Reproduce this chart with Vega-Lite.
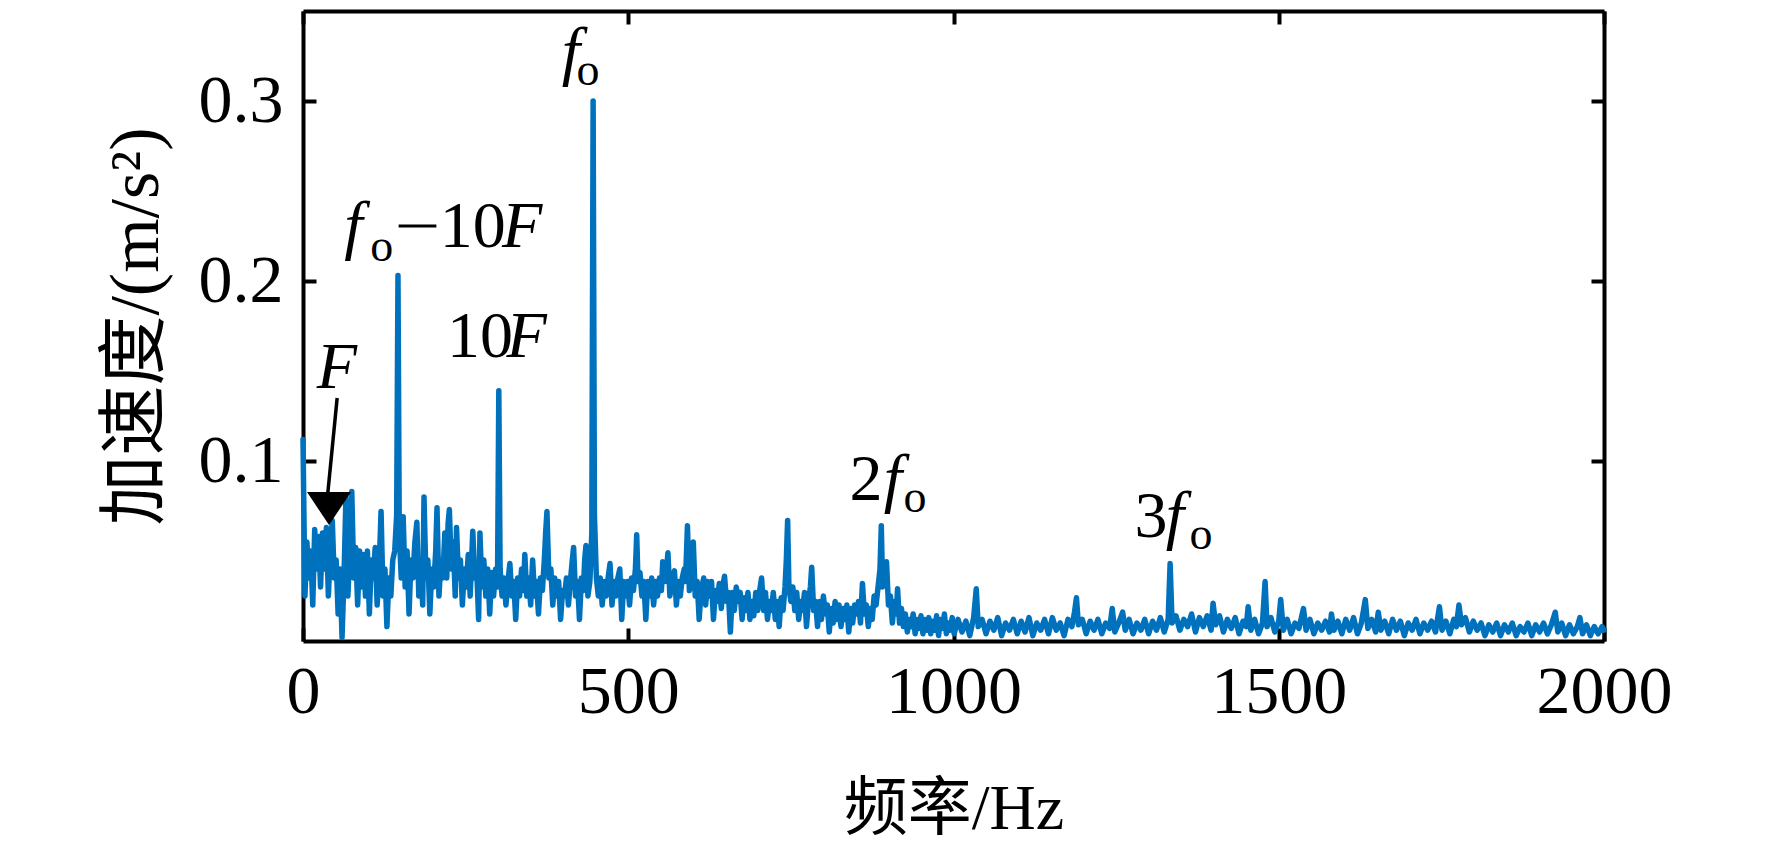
{
  "$schema": "https://vega.github.io/schema/vega-lite/v6.json",
  "width": 1301,
  "height": 630,
  "autosize": "none",
  "padding": {"left": 303, "top": 11, "right": 168, "bottom": 209},
  "background": "white",
  "config": {
    "view": {"stroke": null},
    "axis": {
      "labelFont": "Liberation Serif",
      "labelFontSize": 68,
      "labelColor": "black",
      "labelFlush": false,
      "titleFont": "Liberation Serif, Noto Sans CJK SC",
      "titleFontSize": 64,
      "titleFontWeight": "normal",
      "titleColor": "black",
      "domainColor": "black",
      "domainWidth": 4,
      "tickColor": "black",
      "tickWidth": 4,
      "tickSize": -13,
      "grid": false
    }
  },
  "datasets": {
    "spec": [
      {"f":0,"a":0.112},{"f":3,"a":0.025},{"f":6,"a":0.055},{"f":9,"a":0.035},{"f":12,"a":0.05},{"f":15,"a":0.02},
      {"f":18,"a":0.062},{"f":21,"a":0.04},{"f":24,"a":0.058},{"f":27,"a":0.03},{"f":30,"a":0.06},{"f":33,"a":0.04},
      {"f":36,"a":0.063},{"f":39,"a":0.025},{"f":42,"a":0.05},{"f":45,"a":0.067},{"f":48,"a":0.035},{"f":51,"a":0.045},
      {"f":54,"a":0.015},{"f":57,"a":0.04},{"f":60,"a":0.002},{"f":63,"a":0.035},{"f":66,"a":0.08},{"f":69,"a":0.025},
      {"f":72,"a":0.05},{"f":75,"a":0.083},{"f":78,"a":0.035},{"f":81,"a":0.052},{"f":84,"a":0.02},{"f":87,"a":0.05},
      {"f":90,"a":0.03},{"f":93,"a":0.048},{"f":96,"a":0.025},{"f":99,"a":0.05},{"f":102,"a":0.015},{"f":105,"a":0.045},
      {"f":108,"a":0.035},{"f":111,"a":0.052},{"f":114,"a":0.02},{"f":117,"a":0.04},{"f":120,"a":0.072},{"f":123,"a":0.025},
      {"f":126,"a":0.04},{"f":129,"a":0.008},{"f":132,"a":0.035},{"f":135,"a":0.025},{"f":138,"a":0.045},{"f":141,"a":0.05},
      {"f":144,"a":0.07},{"f":146,"a":0.203},{"f":148,"a":0.06},{"f":151,"a":0.035},{"f":154,"a":0.069},{"f":157,"a":0.03},
      {"f":160,"a":0.05},{"f":163,"a":0.015},{"f":166,"a":0.045},{"f":169,"a":0.035},{"f":172,"a":0.055},{"f":175,"a":0.066},
      {"f":178,"a":0.025},{"f":181,"a":0.045},{"f":184,"a":0.02},{"f":186,"a":0.08},{"f":189,"a":0.035},{"f":192,"a":0.045},
      {"f":195,"a":0.015},{"f":198,"a":0.04},{"f":201,"a":0.03},{"f":204,"a":0.05},{"f":206,"a":0.074},{"f":209,"a":0.025},
      {"f":212,"a":0.045},{"f":215,"a":0.035},{"f":218,"a":0.06},{"f":221,"a":0.035},{"f":223,"a":0.065},{"f":225,"a":0.073},
      {"f":228,"a":0.04},{"f":231,"a":0.055},{"f":234,"a":0.025},{"f":236,"a":0.063},{"f":239,"a":0.035},{"f":242,"a":0.045},
      {"f":245,"a":0.02},{"f":248,"a":0.04},{"f":251,"a":0.03},{"f":254,"a":0.048},{"f":257,"a":0.025},{"f":261,"a":0.061},
      {"f":264,"a":0.035},{"f":267,"a":0.04},{"f":270,"a":0.012},{"f":272,"a":0.06},{"f":275,"a":0.03},{"f":278,"a":0.045},
      {"f":281,"a":0.025},{"f":284,"a":0.04},{"f":287,"a":0.015},{"f":290,"a":0.038},{"f":293,"a":0.025},{"f":296,"a":0.04},
      {"f":299,"a":0.03},{"f":301,"a":0.139},{"f":303,"a":0.04},{"f":306,"a":0.025},{"f":309,"a":0.035},{"f":312,"a":0.02},
      {"f":315,"a":0.033},{"f":318,"a":0.043},{"f":321,"a":0.025},{"f":324,"a":0.033},{"f":327,"a":0.012},{"f":330,"a":0.035},
      {"f":333,"a":0.025},{"f":336,"a":0.04},{"f":339,"a":0.028},{"f":341,"a":0.048},{"f":344,"a":0.025},{"f":347,"a":0.035},
      {"f":350,"a":0.02},{"f":353,"a":0.045},{"f":356,"a":0.025},{"f":359,"a":0.033},{"f":362,"a":0.015},{"f":365,"a":0.035},
      {"f":368,"a":0.028},{"f":371,"a":0.045},{"f":373,"a":0.06},{"f":375,"a":0.072},{"f":378,"a":0.035},{"f":381,"a":0.04},
      {"f":384,"a":0.02},{"f":387,"a":0.035},{"f":390,"a":0.025},{"f":393,"a":0.033},{"f":396,"a":0.012},{"f":399,"a":0.028},
      {"f":402,"a":0.025},{"f":405,"a":0.035},{"f":408,"a":0.02},{"f":411,"a":0.033},{"f":414,"a":0.045},{"f":416,"a":0.052},
      {"f":419,"a":0.025},{"f":422,"a":0.033},{"f":425,"a":0.012},{"f":428,"a":0.035},{"f":431,"a":0.028},{"f":433,"a":0.045},
      {"f":435,"a":0.053},{"f":438,"a":0.025},{"f":441,"a":0.033},{"f":444,"a":0.06},{"f":446,"a":0.3},{"f":448,"a":0.07},
      {"f":451,"a":0.035},{"f":454,"a":0.025},{"f":457,"a":0.035},{"f":460,"a":0.02},{"f":463,"a":0.033},{"f":466,"a":0.025},
      {"f":469,"a":0.035},{"f":472,"a":0.043},{"f":475,"a":0.02},{"f":478,"a":0.033},{"f":481,"a":0.025},{"f":484,"a":0.035},
      {"f":487,"a":0.04},{"f":490,"a":0.012},{"f":493,"a":0.033},{"f":496,"a":0.025},{"f":499,"a":0.033},{"f":502,"a":0.02},
      {"f":505,"a":0.035},{"f":508,"a":0.028},{"f":511,"a":0.04},{"f":513,"a":0.059},{"f":515,"a":0.033},{"f":518,"a":0.038},
      {"f":521,"a":0.025},{"f":524,"a":0.033},{"f":527,"a":0.012},{"f":530,"a":0.033},{"f":533,"a":0.025},{"f":536,"a":0.035},
      {"f":539,"a":0.02},{"f":542,"a":0.033},{"f":545,"a":0.025},{"f":548,"a":0.035},{"f":551,"a":0.028},{"f":553,"a":0.044},
      {"f":556,"a":0.033},{"f":559,"a":0.04},{"f":561,"a":0.049},{"f":564,"a":0.025},{"f":567,"a":0.033},{"f":571,"a":0.039},
      {"f":574,"a":0.02},{"f":577,"a":0.033},{"f":580,"a":0.025},{"f":583,"a":0.035},{"f":586,"a":0.04},{"f":588,"a":0.033},
      {"f":591,"a":0.064},{"f":594,"a":0.028},{"f":597,"a":0.035},{"f":600,"a":0.055},{"f":603,"a":0.025},{"f":606,"a":0.033},
      {"f":609,"a":0.012},{"f":612,"a":0.028},{"f":616,"a":0.035},{"f":619,"a":0.02},{"f":622,"a":0.033},{"f":625,"a":0.025},
      {"f":628,"a":0.033},{"f":631,"a":0.012},{"f":634,"a":0.028},{"f":637,"a":0.022},{"f":640,"a":0.032},{"f":643,"a":0.018},
      {"f":646,"a":0.032},{"f":648,"a":0.036},{"f":651,"a":0.022},{"f":654,"a":0.027},{"f":657,"a":0.005},{"f":660,"a":0.027},
      {"f":663,"a":0.017},{"f":666,"a":0.03},{"f":669,"a":0.022},{"f":672,"a":0.027},{"f":675,"a":0.012},{"f":678,"a":0.024},
      {"f":681,"a":0.017},{"f":684,"a":0.027},{"f":687,"a":0.012},{"f":690,"a":0.022},{"f":693,"a":0.014},{"f":696,"a":0.027},
      {"f":699,"a":0.017},{"f":702,"a":0.028},{"f":705,"a":0.035},{"f":708,"a":0.017},{"f":711,"a":0.027},{"f":714,"a":0.012},
      {"f":717,"a":0.022},{"f":720,"a":0.017},{"f":723,"a":0.027},{"f":726,"a":0.012},{"f":729,"a":0.022},{"f":732,"a":0.008},
      {"f":735,"a":0.024},{"f":738,"a":0.017},{"f":741,"a":0.03},{"f":743,"a":0.045},{"f":745,"a":0.067},{"f":747,"a":0.03},
      {"f":750,"a":0.022},{"f":753,"a":0.03},{"f":756,"a":0.017},{"f":759,"a":0.027},{"f":762,"a":0.012},{"f":765,"a":0.022},
      {"f":768,"a":0.017},{"f":771,"a":0.027},{"f":774,"a":0.008},{"f":777,"a":0.022},{"f":780,"a":0.03},{"f":782,"a":0.041},
      {"f":785,"a":0.017},{"f":788,"a":0.022},{"f":791,"a":0.008},{"f":794,"a":0.022},{"f":797,"a":0.012},{"f":800,"a":0.025},
      {"f":803,"a":0.015},{"f":806,"a":0.02},{"f":809,"a":0.005},{"f":812,"a":0.018},{"f":815,"a":0.01},{"f":818,"a":0.022},
      {"f":821,"a":0.012},{"f":824,"a":0.02},{"f":827,"a":0.008},{"f":830,"a":0.018},{"f":833,"a":0.012},{"f":836,"a":0.02},
      {"f":839,"a":0.005},{"f":842,"a":0.018},{"f":845,"a":0.01},{"f":848,"a":0.02},{"f":851,"a":0.015},{"f":854,"a":0.022},
      {"f":857,"a":0.01},{"f":860,"a":0.032},{"f":863,"a":0.015},{"f":866,"a":0.02},{"f":869,"a":0.008},{"f":872,"a":0.018},
      {"f":875,"a":0.012},{"f":878,"a":0.025},{"f":881,"a":0.02},{"f":884,"a":0.03},{"f":887,"a":0.04},{"f":889,"a":0.064},
      {"f":891,"a":0.03},{"f":894,"a":0.035},{"f":897,"a":0.044},{"f":900,"a":0.02},{"f":903,"a":0.025},{"f":906,"a":0.01},
      {"f":909,"a":0.022},{"f":912,"a":0.015},{"f":914,"a":0.029},{"f":917,"a":0.01},{"f":920,"a":0.018},{"f":923,"a":0.008},
      {"f":926,"a":0.015},{"f":929,"a":0.005},{"f":932,"a":0.012},{"f":935,"a":0.008},{"f":938,"a":0.015},{"f":941,"a":0.004},
      {"f":944,"a":0.012},{"f":947,"a":0.007},{"f":950,"a":0.014},{"f":953,"a":0.004},{"f":956,"a":0.012},{"f":959,"a":0.006},
      {"f":962,"a":0.013},{"f":965,"a":0.004},{"f":968,"a":0.011},{"f":971,"a":0.006},{"f":974,"a":0.014},{"f":977,"a":0.003},
      {"f":980,"a":0.012},{"f":983,"a":0.007},{"f":986,"a":0.015},{"f":989,"a":0.004},{"f":992,"a":0.01},{"f":995,"a":0.006},
      {"f":998,"a":0.013},{"f":1001,"a":0.004},{"f":1007,"a":0.012},{"f":1013,"a":0.005},{"f":1019,"a":0.011},{"f":1025,"a":0.003},
      {"f":1031,"a":0.013},{"f":1035,"a":0.029},{"f":1038,"a":0.008},{"f":1044,"a":0.012},{"f":1050,"a":0.004},{"f":1056,"a":0.011},
      {"f":1062,"a":0.006},{"f":1068,"a":0.013},{"f":1074,"a":0.003},{"f":1080,"a":0.01},{"f":1086,"a":0.006},{"f":1092,"a":0.012},
      {"f":1098,"a":0.004},{"f":1104,"a":0.011},{"f":1110,"a":0.005},{"f":1116,"a":0.013},{"f":1122,"a":0.003},{"f":1128,"a":0.01},
      {"f":1134,"a":0.006},{"f":1140,"a":0.012},{"f":1146,"a":0.004},{"f":1152,"a":0.013},{"f":1158,"a":0.006},{"f":1164,"a":0.01},
      {"f":1170,"a":0.003},{"f":1176,"a":0.012},{"f":1182,"a":0.008},{"f":1186,"a":0.016},{"f":1189,"a":0.024},{"f":1192,"a":0.009},
      {"f":1198,"a":0.012},{"f":1204,"a":0.004},{"f":1210,"a":0.011},{"f":1216,"a":0.006},{"f":1222,"a":0.012},{"f":1228,"a":0.004},
      {"f":1234,"a":0.01},{"f":1240,"a":0.007},{"f":1244,"a":0.018},{"f":1248,"a":0.005},{"f":1254,"a":0.01},{"f":1260,"a":0.016},
      {"f":1264,"a":0.006},{"f":1270,"a":0.012},{"f":1276,"a":0.004},{"f":1282,"a":0.01},{"f":1288,"a":0.006},{"f":1294,"a":0.012},
      {"f":1300,"a":0.004},{"f":1306,"a":0.011},{"f":1312,"a":0.006},{"f":1318,"a":0.013},{"f":1324,"a":0.005},{"f":1330,"a":0.012},
      {"f":1333,"a":0.043},{"f":1336,"a":0.01},{"f":1342,"a":0.014},{"f":1348,"a":0.006},{"f":1354,"a":0.012},{"f":1360,"a":0.008},
      {"f":1366,"a":0.015},{"f":1372,"a":0.005},{"f":1378,"a":0.013},{"f":1384,"a":0.008},{"f":1390,"a":0.014},{"f":1396,"a":0.006},
      {"f":1399,"a":0.021},{"f":1403,"a":0.009},{"f":1409,"a":0.014},{"f":1415,"a":0.005},{"f":1421,"a":0.012},{"f":1427,"a":0.007},
      {"f":1433,"a":0.013},{"f":1439,"a":0.004},{"f":1445,"a":0.011},{"f":1450,"a":0.008},{"f":1453,"a":0.019},{"f":1457,"a":0.006},
      {"f":1463,"a":0.012},{"f":1469,"a":0.004},{"f":1475,"a":0.01},{"f":1479,"a":0.033},{"f":1482,"a":0.008},{"f":1488,"a":0.013},
      {"f":1494,"a":0.005},{"f":1500,"a":0.011},{"f":1503,"a":0.023},{"f":1507,"a":0.006},{"f":1513,"a":0.012},{"f":1519,"a":0.004},
      {"f":1525,"a":0.01},{"f":1531,"a":0.007},{"f":1538,"a":0.018},{"f":1542,"a":0.006},{"f":1548,"a":0.012},{"f":1554,"a":0.004},
      {"f":1560,"a":0.01},{"f":1566,"a":0.006},{"f":1572,"a":0.011},{"f":1578,"a":0.005},{"f":1581,"a":0.015},{"f":1585,"a":0.006},
      {"f":1591,"a":0.011},{"f":1597,"a":0.004},{"f":1603,"a":0.012},{"f":1609,"a":0.006},{"f":1615,"a":0.013},{"f":1621,"a":0.004},
      {"f":1627,"a":0.01},{"f":1633,"a":0.023},{"f":1637,"a":0.007},{"f":1643,"a":0.012},{"f":1649,"a":0.005},{"f":1653,"a":0.016},
      {"f":1657,"a":0.006},{"f":1663,"a":0.011},{"f":1669,"a":0.004},{"f":1675,"a":0.012},{"f":1681,"a":0.006},{"f":1687,"a":0.011},
      {"f":1693,"a":0.003},{"f":1699,"a":0.01},{"f":1705,"a":0.006},{"f":1711,"a":0.012},{"f":1717,"a":0.004},{"f":1723,"a":0.01},
      {"f":1729,"a":0.006},{"f":1735,"a":0.011},{"f":1741,"a":0.005},{"f":1747,"a":0.019},{"f":1751,"a":0.006},{"f":1757,"a":0.011},
      {"f":1763,"a":0.004},{"f":1769,"a":0.012},{"f":1773,"a":0.008},{"f":1777,"a":0.02},{"f":1781,"a":0.009},{"f":1787,"a":0.013},
      {"f":1793,"a":0.005},{"f":1799,"a":0.011},{"f":1805,"a":0.006},{"f":1811,"a":0.01},{"f":1817,"a":0.003},{"f":1823,"a":0.009},
      {"f":1829,"a":0.005},{"f":1835,"a":0.01},{"f":1841,"a":0.003},{"f":1847,"a":0.009},{"f":1853,"a":0.005},{"f":1859,"a":0.01},
      {"f":1865,"a":0.003},{"f":1871,"a":0.008},{"f":1877,"a":0.005},{"f":1883,"a":0.01},{"f":1889,"a":0.003},{"f":1895,"a":0.009},
      {"f":1901,"a":0.005},{"f":1907,"a":0.01},{"f":1913,"a":0.004},{"f":1919,"a":0.009},{"f":1925,"a":0.016},{"f":1929,"a":0.005},
      {"f":1935,"a":0.01},{"f":1941,"a":0.003},{"f":1947,"a":0.009},{"f":1953,"a":0.004},{"f":1959,"a":0.008},{"f":1963,"a":0.013},
      {"f":1967,"a":0.004},{"f":1973,"a":0.009},{"f":1979,"a":0.003},{"f":1985,"a":0.008},{"f":1991,"a":0.004},{"f":1997,"a":0.008},
      {"f":2000,"a":0.006}
    ],
    "italic": [
      {"f":412,"a":0.3155,"t":"f"},
      {"f":77.5,"a":0.2189,"t":"f"},
      {"f":337,"a":0.2189,"t":"F"},
      {"f":344,"a":0.1578,"t":"F"},
      {"f":52,"a":0.1406,"t":"F"},
      {"f":907,"a":0.0783,"t":"f"},
      {"f":1340.5,"a":0.058,"t":"f"}
    ],
    "roman": [
      {"f":261,"a":0.2189,"t":"10"},
      {"f":272,"a":0.1578,"t":"10"},
      {"f":865.5,"a":0.0783,"t":"2"},
      {"f":1303.6,"a":0.058,"t":"3"}
    ],
    "sub": [
      {"f":438.1,"a":0.3088,"t":"o"},
      {"f":121,"a":0.2111,"t":"o"},
      {"f":940.8,"a":0.0717,"t":"o"},
      {"f":1380.5,"a":0.0513,"t":"o"}
    ],
    "minus": [
      {"f":147,"f2":205,"a":0.2305}
    ],
    "arrow": [
      {"f":52.5,"a":0.135,"f2":37,"a2":0.078}
    ],
    "head": [
      {"f":40,"a":0.0736}
    ]
  },
  "resolve": {"axis": {"x": "independent", "y": "independent"}},
  "layer": [
    {
      "data": {"name": "spec"},
      "mark": {"type": "line", "color": "#0072BD", "strokeWidth": 5.5, "strokeJoin": "round", "strokeCap": "round"},
      "encoding": {
        "x": {
          "field": "f", "type": "quantitative",
          "scale": {"domain": [0, 2000], "nice": false},
          "axis": {"orient": "bottom", "values": [0, 500, 1000, 1500, 2000], "format": "d", "labelPadding": 30, "title": "频率/Hz", "titlePadding": 51}
        },
        "y": {
          "field": "a", "type": "quantitative",
          "scale": {"domain": [0, 0.35], "nice": false, "zero": false},
          "axis": {"orient": "left", "values": [0.1, 0.2, 0.3], "format": ".1f", "labelPadding": 33, "title": "加速度/(m/s²)", "titleFontSize": 70, "titlePadding": 26}
        }
      }
    },
    {
      "data": {"name": "arrow"},
      "mark": {"type": "rule", "color": "black", "strokeWidth": 3.5},
      "encoding": {
        "x": {"field": "f", "type": "quantitative", "axis": null},
        "y": {"field": "a", "type": "quantitative", "axis": null},
        "x2": {"field": "f2"},
        "y2": {"field": "a2"}
      }
    },
    {
      "data": {"name": "minus"},
      "mark": {"type": "rule", "color": "black", "strokeWidth": 3},
      "encoding": {
        "x": {"field": "f", "type": "quantitative", "axis": null},
        "x2": {"field": "f2"},
        "y": {"field": "a", "type": "quantitative", "axis": null}
      }
    },
    {
      "data": {"name": "head"},
      "mark": {"type": "point", "shape": "M-1,-0.75L1,-0.75L0,0.75Z", "filled": true, "color": "black", "opacity": 1, "size": 1936},
      "encoding": {
        "x": {"field": "f", "type": "quantitative", "axis": null},
        "y": {"field": "a", "type": "quantitative", "axis": null}
      }
    },
    {
      "data": {"name": "italic"},
      "mark": {"type": "text", "font": "Liberation Serif", "fontStyle": "italic", "fontSize": 66, "align": "center", "baseline": "alphabetic", "color": "black"},
      "encoding": {
        "x": {"field": "f", "type": "quantitative", "axis": null},
        "y": {"field": "a", "type": "quantitative", "axis": null},
        "text": {"field": "t"}
      }
    },
    {
      "data": {"name": "roman"},
      "mark": {"type": "text", "font": "Liberation Serif", "fontSize": 66, "align": "center", "baseline": "alphabetic", "color": "black"},
      "encoding": {
        "x": {"field": "f", "type": "quantitative", "axis": null},
        "y": {"field": "a", "type": "quantitative", "axis": null},
        "text": {"field": "t"}
      }
    },
    {
      "data": {"name": "sub"},
      "mark": {"type": "text", "font": "Liberation Serif", "fontSize": 46, "align": "center", "baseline": "alphabetic", "color": "black"},
      "encoding": {
        "x": {
          "field": "f", "type": "quantitative",
          "axis": {"orient": "top", "values": [0, 500, 1000, 1500, 2000], "labels": false, "title": null}
        },
        "y": {
          "field": "a", "type": "quantitative",
          "axis": {"orient": "right", "values": [0.1, 0.2, 0.3], "labels": false, "title": null}
        },
        "text": {"field": "t"}
      }
    }
  ]
}
